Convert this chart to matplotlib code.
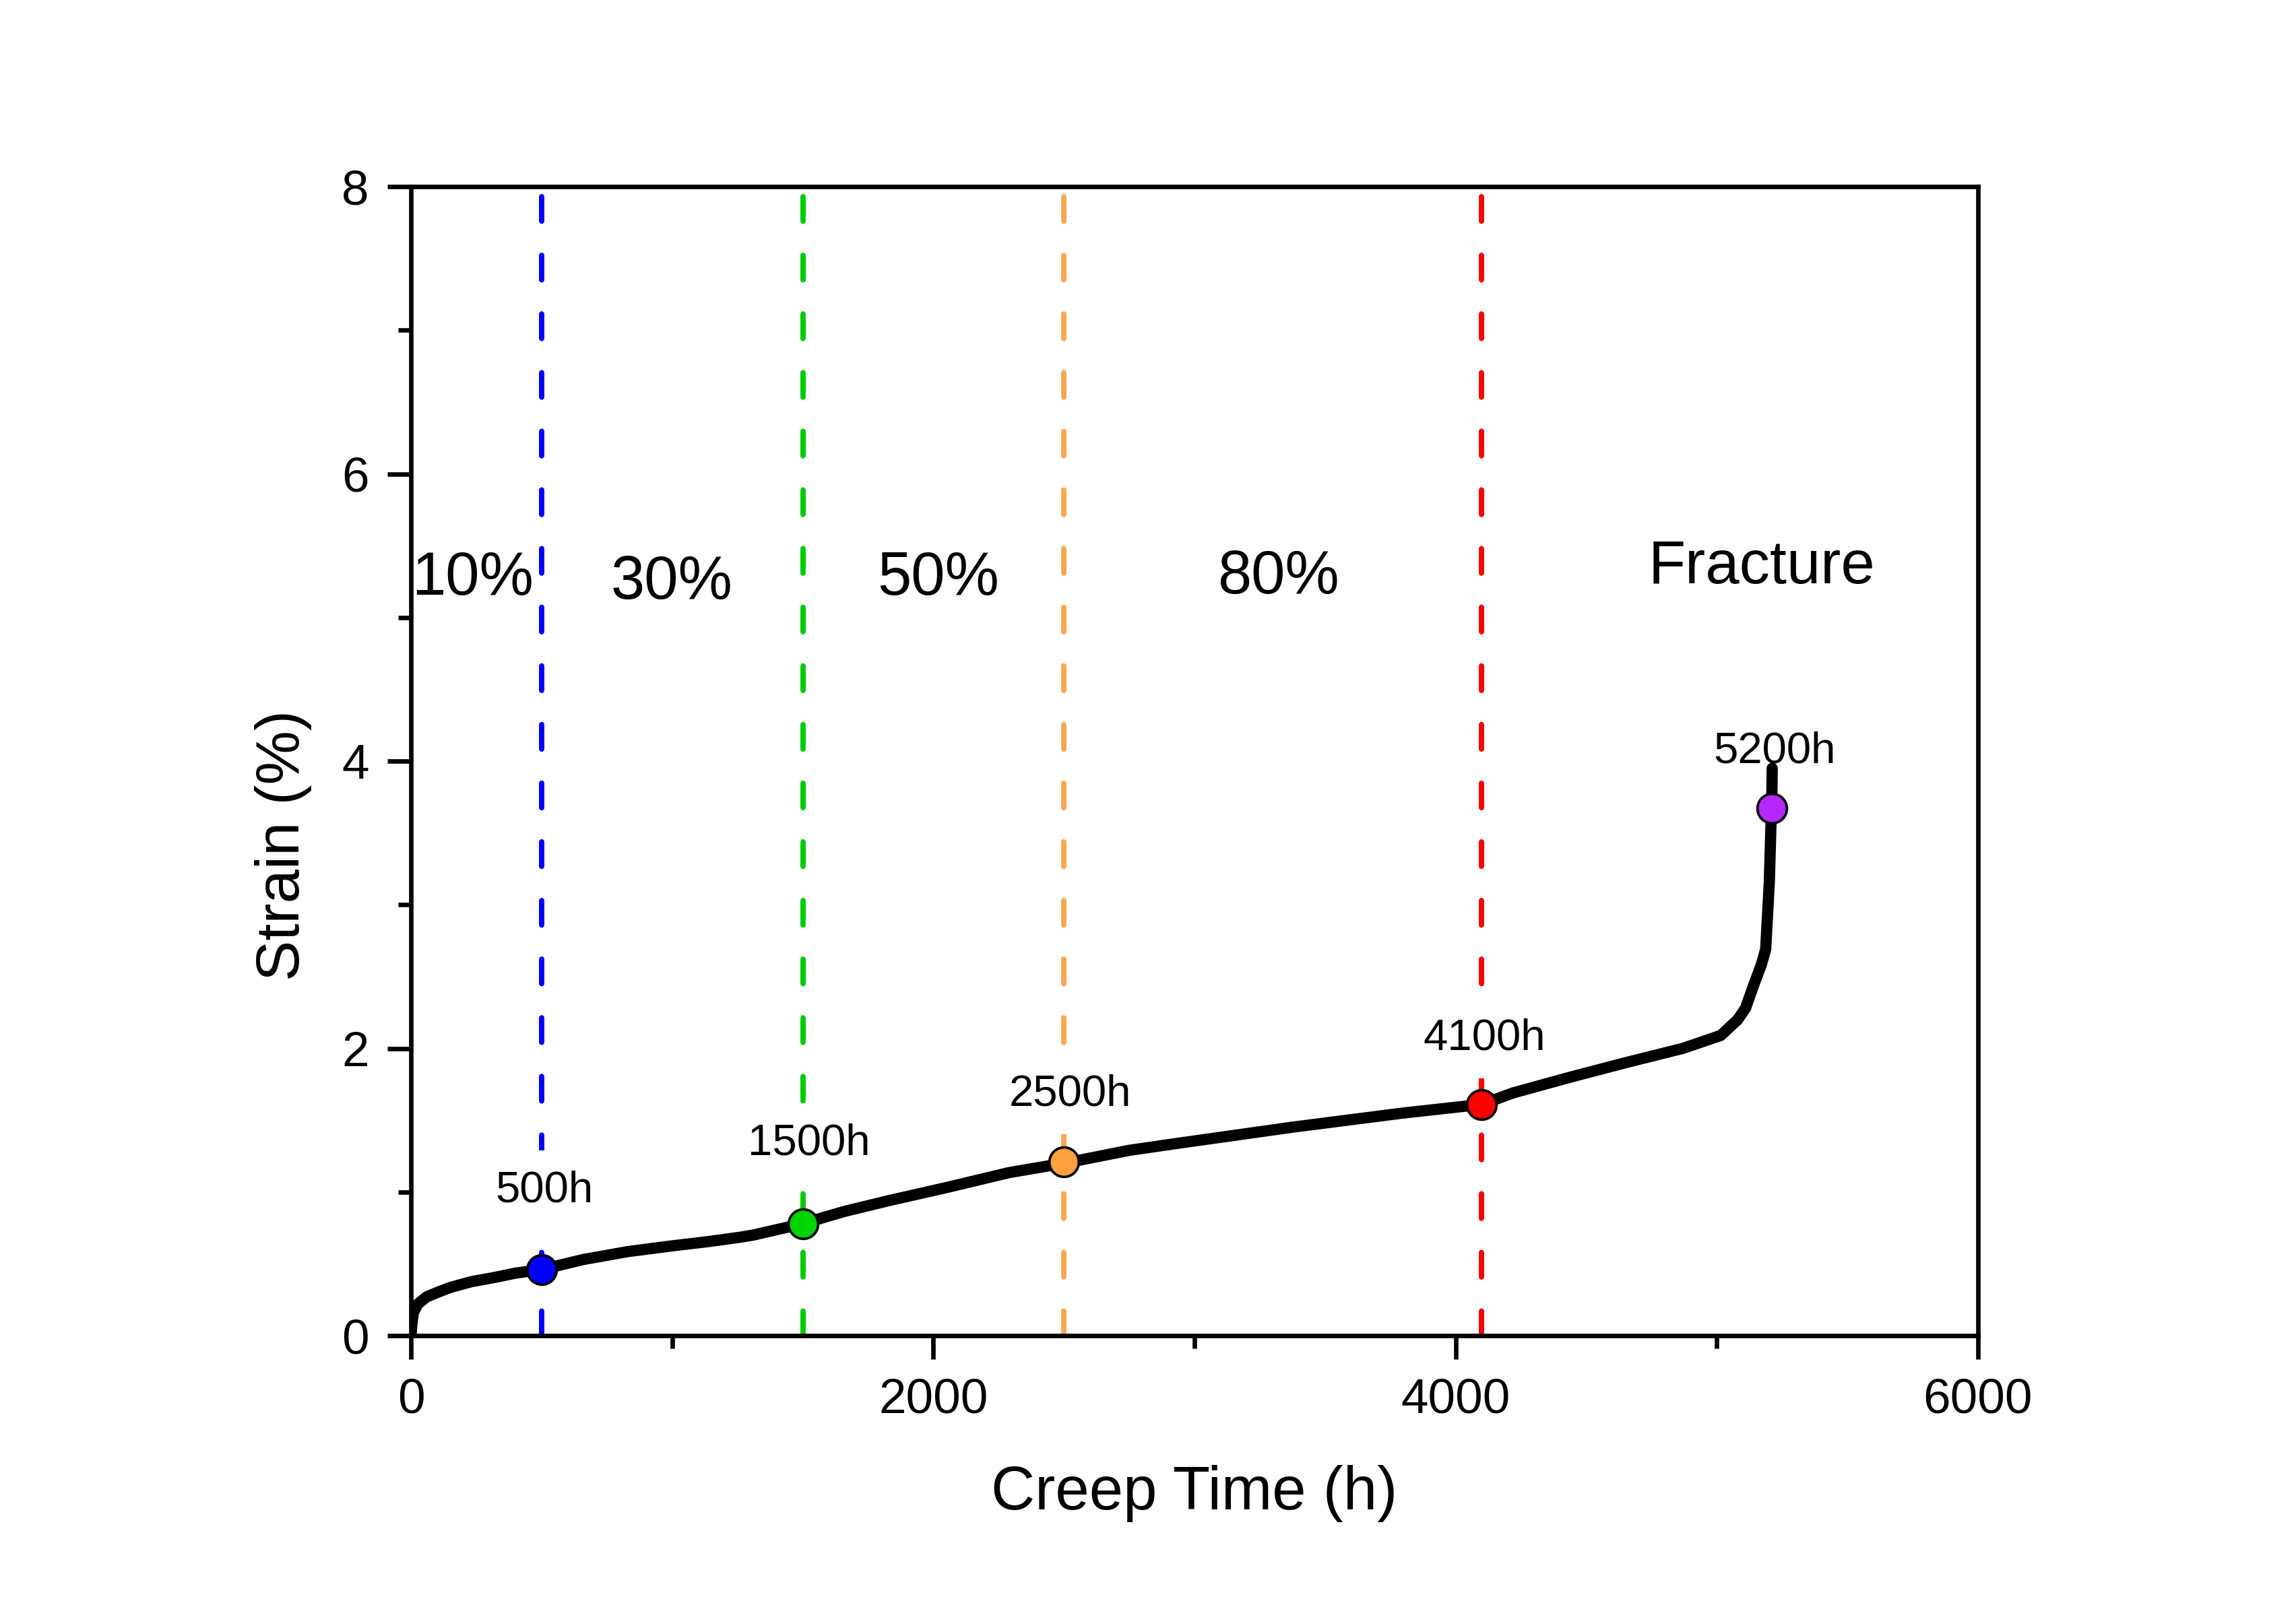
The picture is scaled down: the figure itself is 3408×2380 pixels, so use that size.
import matplotlib
matplotlib.use("Agg")
import matplotlib.pyplot as plt

plt.rcParams['font.family'] = ['Liberation Sans', 'DejaVu Sans']

# ---- data ----
time_h = [0, 3, 9, 26, 60, 100, 150, 230, 320, 400, 500, 660, 830, 1000, 1140,
          1260, 1310, 1430, 1500, 1660, 1830, 2060, 2290, 2500, 2750, 2940, 3370,
          3800, 4100, 4220, 4440, 4650, 4870, 5015, 5080, 5110, 5143, 5170, 5187,
          5201, 5207, 5210, 5212]
strain = [0.0, 0.07, 0.16, 0.22, 0.27, 0.30, 0.335, 0.375, 0.405, 0.435, 0.46,
          0.53, 0.585, 0.625, 0.655, 0.685, 0.70, 0.75, 0.78, 0.865, 0.94, 1.035,
          1.135, 1.20, 1.29, 1.34, 1.45, 1.55, 1.61, 1.69, 1.80, 1.90, 2.00, 2.09,
          2.20, 2.28, 2.45, 2.58, 2.69, 3.16, 3.54, 3.66, 3.95]

event_times = [500, 1500, 2500, 4100]
event_colors = ['#0000FF', '#00CC00', '#FFA54F', '#FF0000']

marker_t = [500, 1500, 2500, 4100, 5210]
marker_s = [0.46, 0.78, 1.21, 1.61, 3.67]
marker_colors = ['#0000FF', '#00D400', '#FFA040', '#FF0000', '#B428FF']

point_labels = ['500h', '1500h', '2500h', '4100h', '5200h']
point_label_x = [510, 1525, 2524, 4111, 5222]
point_label_y = [1.01, 1.34, 1.68, 2.07, 4.07]

region_labels = ['10%', '30%', '50%', '80%', 'Fracture']
region_x = [236, 998, 2019, 3320, 5171]
region_y = [5.27, 5.24, 5.27, 5.28, 5.35]

x_ticks = [0, 2000, 4000, 6000]
y_ticks = [0, 2, 4, 6, 8]

# ---- figure ----
fig = plt.figure(figsize=(3408 / 300, 2380 / 300), dpi=300)
ax = fig.add_axes([0.179, 0.1668, 0.8615 - 0.179, 0.8836 - 0.1668])

# dashed event lines (lowest), label boxes hide them, curve and markers on top
for t, c in zip(event_times, event_colors):
    ax.plot([t, t], [0, 8], color=c, lw=1.9, linestyle=(0, (4.6, 6.4)),
            dash_capstyle='round', zorder=2)

for lab, x, y in zip(point_labels, point_label_x, point_label_y):
    ax.text(x, y, lab, fontsize=15.7, ha='center', va='center', zorder=3,
            bbox=dict(facecolor='white', edgecolor='none', pad=7))

ax.plot(time_h, strain, color='black', lw=4.0, solid_joinstyle='round',
        solid_capstyle='round', zorder=4)

for t, s, c in zip(marker_t, marker_s, marker_colors):
    ax.plot([t], [s], 'o', ms=10.5, mfc=c, mec='black', mew=0.9, zorder=5)

for lab, x, y in zip(region_labels, region_x, region_y):
    ax.text(x, y, lab, fontsize=21.7, ha='center', va='center', zorder=6)

ax.set_xlim(0, 6000)
ax.set_ylim(0, 8)
ax.set_xticks(x_ticks)
ax.set_yticks(y_ticks)
ax.set_xticks([1000, 3000, 5000], minor=True)
ax.set_yticks([1, 3, 5, 7], minor=True)

for sp in ax.spines.values():
    sp.set_linewidth(1.6)

ax.tick_params(which='major', direction='out', length=8.5, width=1.6,
               labelsize=17.5, pad=6.5, top=False, right=False)
ax.tick_params(which='minor', direction='out', length=4.6, width=1.6,
               top=False, right=False)

ax.set_xlabel('Creep Time (h)', fontsize=21.7)
ax.set_ylabel('Strain (%)', fontsize=21.7)
ax.xaxis.label.set_va('center')
ax.yaxis.label.set_va('center')
ax.xaxis.set_label_coords(0.5, -0.1376)
ax.yaxis.set_label_coords(-0.0813, 0.427)

fig.savefig('out.png', dpi=300, facecolor='white')
